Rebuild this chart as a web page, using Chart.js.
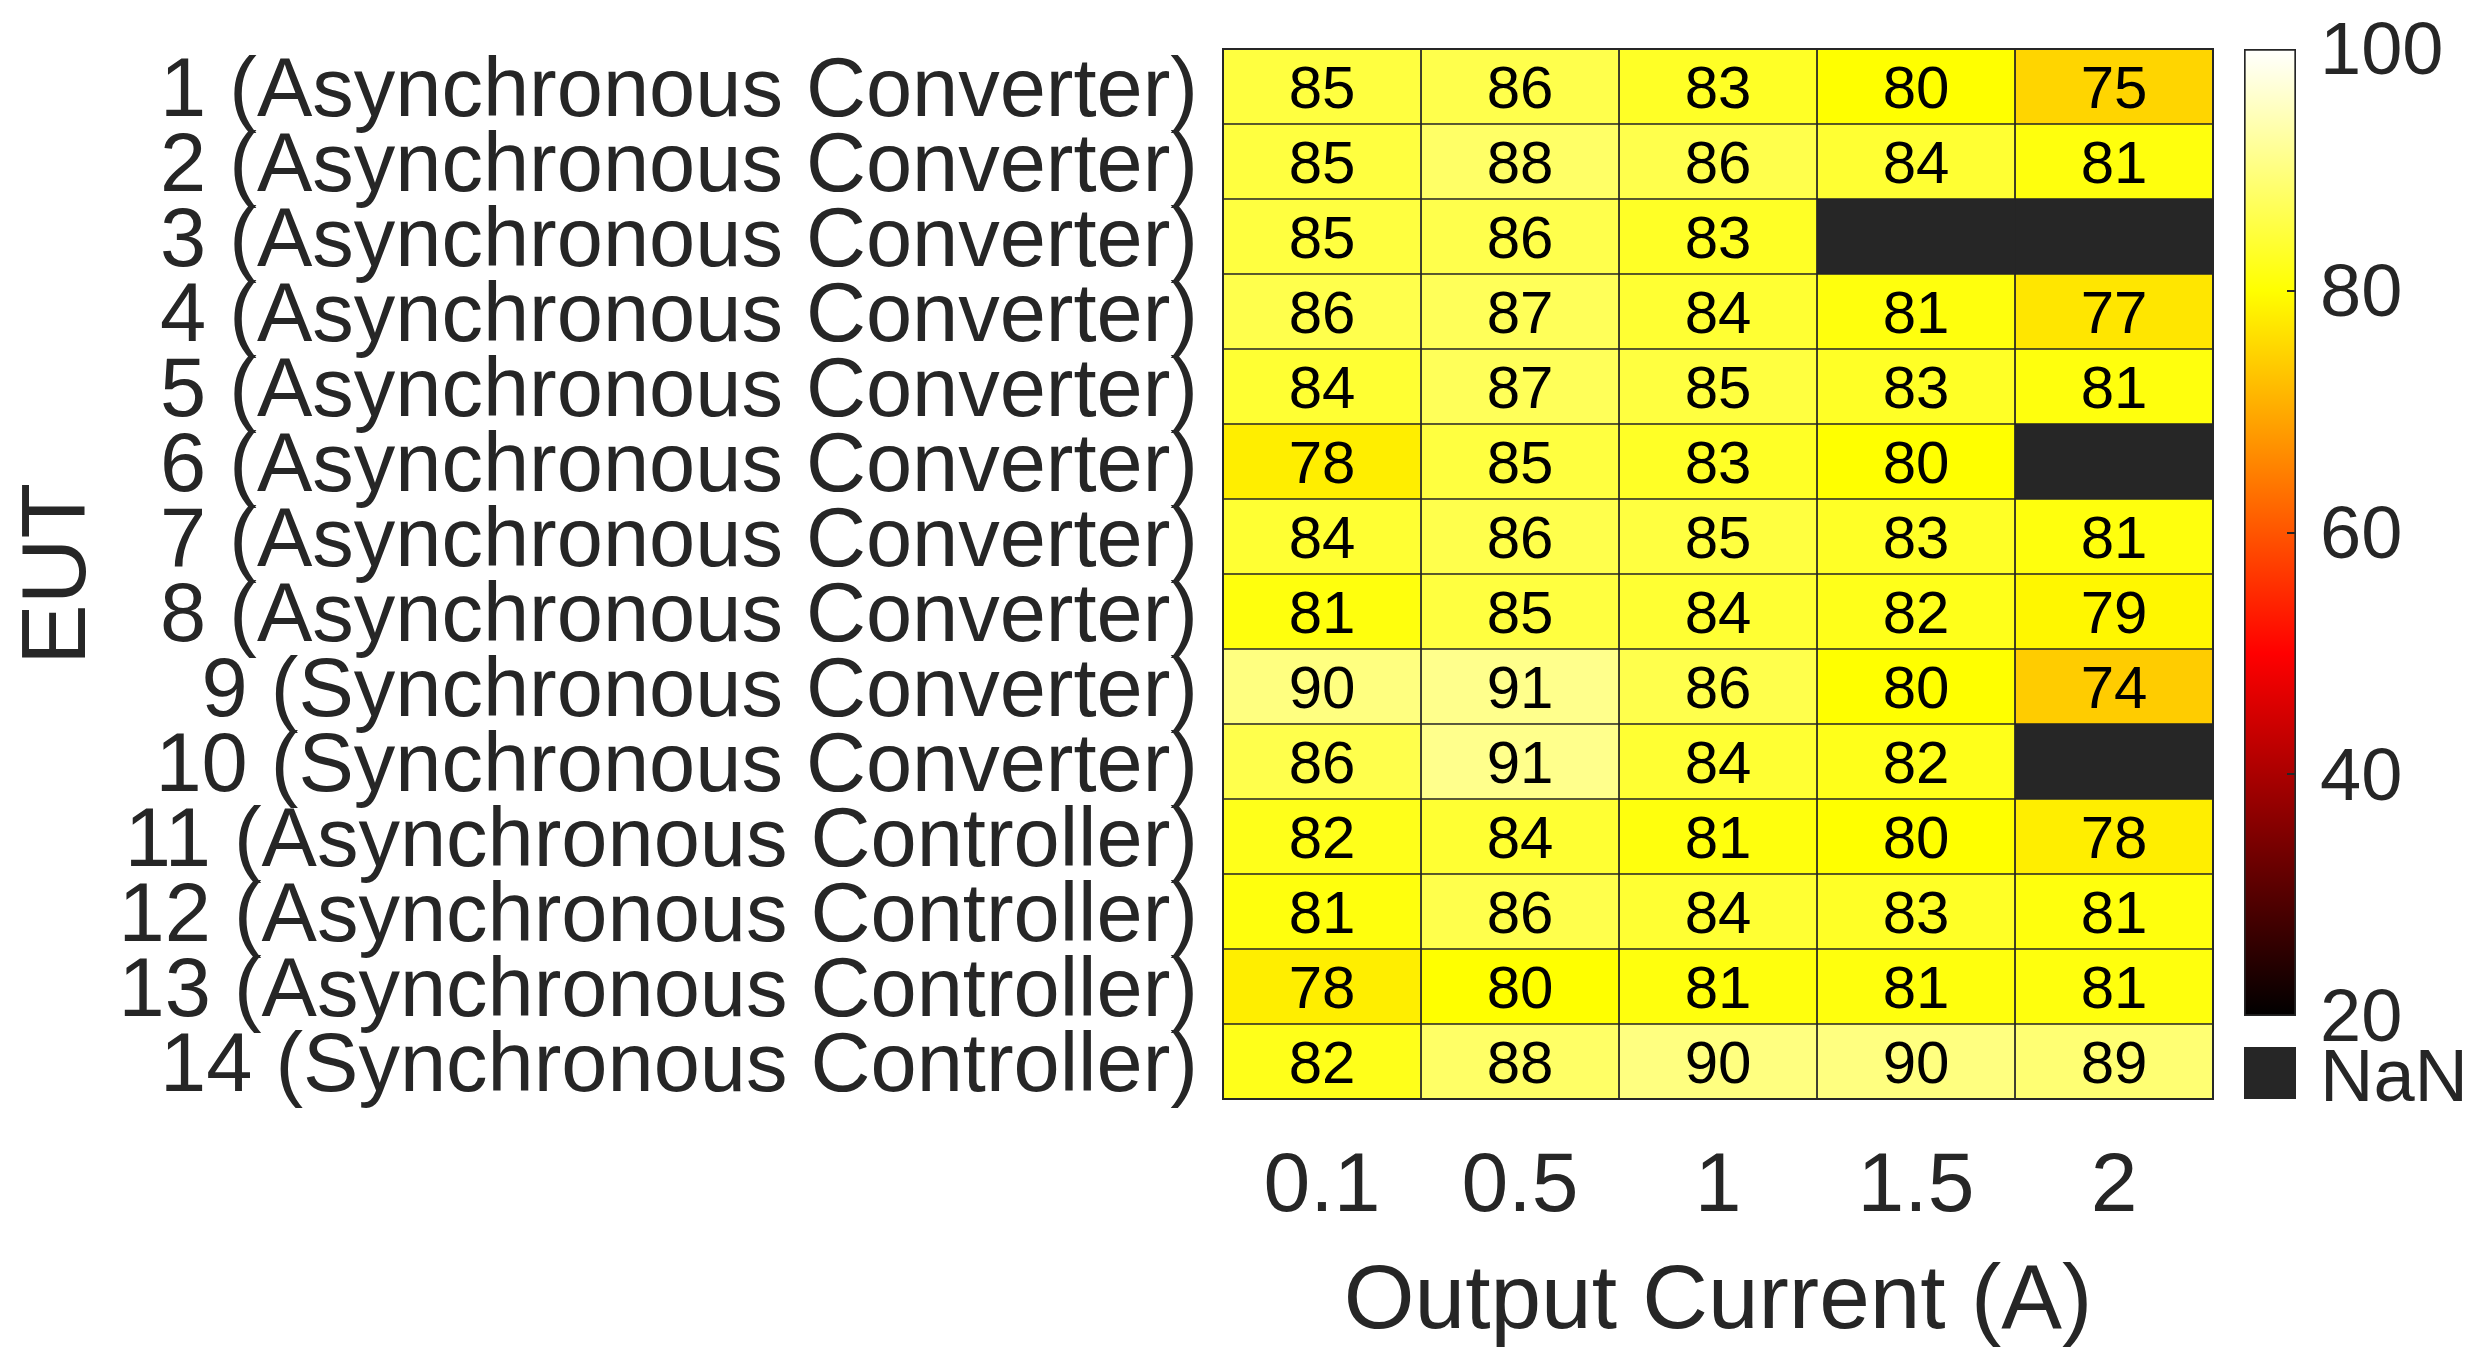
<!DOCTYPE html>
<html><head><meta charset="utf-8">
<script src="https://cdn.jsdelivr.net/npm/chart.js@4.4.1/dist/chart.umd.min.js"></script>
<style>
html,body{margin:0;padding:0;background:#fff;}
#wrap{position:relative;width:2488px;height:1372px;overflow:hidden;font-family:"Liberation Sans",Arial,sans-serif;}
#main{position:absolute;left:0;top:0;}
#cbar{position:absolute;left:2200px;top:0;}
#nanBox{position:absolute;left:2244px;top:1047px;width:52px;height:52px;background:#262626;}
#nanText{position:absolute;left:2320px;top:1039px;font-size:74px;line-height:74px;color:#262626;}
</style></head><body>
<div id="wrap">
<canvas id="main" width="2488" height="1372"></canvas>
<canvas id="cbar" width="288" height="1372"></canvas>
<div id="nanBox"></div><div id="nanText">NaN</div>
</div>
<script>
// ---- data ----
const eutLabels = [
  '1 (Asynchronous Converter)', '2 (Asynchronous Converter)', '3 (Asynchronous Converter)',
  '4 (Asynchronous Converter)', '5 (Asynchronous Converter)', '6 (Asynchronous Converter)',
  '7 (Asynchronous Converter)', '8 (Asynchronous Converter)', '9 (Synchronous Converter)',
  '10 (Synchronous Converter)', '11 (Asynchronous Controller)', '12 (Asynchronous Controller)',
  '13 (Asynchronous Controller)', '14 (Synchronous Controller)'
];
const currentLabels = ['0.1', '0.5', '1', '1.5', '2'];
const eff_0_1 = [85, 85, 85, 86, 84, 78, 84, 81, 90, 86, 82, 81, 78, 82];
const eff_0_5 = [86, 88, 86, 87, 87, 85, 86, 85, 91, 91, 84, 86, 80, 88];
const eff_1   = [83, 86, 83, 84, 85, 83, 85, 84, 86, 84, 81, 84, 81, 90];
const eff_1_5 = [80, 84, null, 81, 83, 80, 83, 82, 80, 82, 80, 83, 81, 90];
const eff_2   = [75, 81, null, 77, 81, null, 81, 79, 74, null, 78, 81, 81, 89];
const colorMin = 20;
const colorMax = 100;
const colorbarTicks = [20, 40, 60, 80, 100];

const columns = [eff_0_1, eff_0_5, eff_1, eff_1_5, eff_2];
const FONT = '"Liberation Sans", Arial, sans-serif';
const TXT = '#262626';
const NAN_COLOR = '#262626';

function hot(t) {
  t = Math.max(0, Math.min(1, t));
  const r = Math.min(1, t / 0.375);
  const g = Math.max(0, Math.min(1, (t - 0.375) / 0.375));
  const b = Math.max(0, Math.min(1, (t - 0.75) / 0.25));
  return `rgb(${Math.round(r*255)},${Math.round(g*255)},${Math.round(b*255)})`;
}
function colorFor(v) {
  if (v === null || v === undefined || isNaN(v)) return NAN_COLOR;
  return hot((v - colorMin) / (colorMax - colorMin));
}

const cellLabels = {
  id: 'cellLabels',
  afterDatasetsDraw(chart) {
    const ctx = chart.ctx;
    ctx.save();
    ctx.font = '60px ' + FONT;
    ctx.fillStyle = '#000';
    ctx.textAlign = 'center';
    ctx.textBaseline = 'middle';
    chart.data.datasets.forEach((ds, j) => {
      const meta = chart.getDatasetMeta(j);
      meta.data.forEach((el, i) => {
        const v = ds.values[i];
        if (v === null) return;
        const cx = (el.x + el.base) / 2;
        ctx.fillText(String(v), cx, el.y + 5);
      });
    });
    const a = chart.chartArea;
    ctx.strokeStyle = '#262626';
    ctx.lineWidth = 2;
    ctx.strokeRect(a.left, a.top, a.right - a.left, a.bottom - a.top);
    ctx.restore();
  }
};

new Chart(document.getElementById('main'), {
  type: 'bar',
  data: {
    labels: eutLabels,
    datasets: columns.map((col, j) => ({
      label: currentLabels[j],
      values: col,
      data: col.map(() => 1),
      backgroundColor: col.map(colorFor),
      borderColor: '#262626',
      borderWidth: 1.2,
      borderSkipped: false,
      barPercentage: 1,
      categoryPercentage: 1
    }))
  },
  options: {
    indexAxis: 'y',
    responsive: false,
    animation: false,
    events: [],
    layout: { padding: { left: 0, top: 49, right: 275, bottom: 0 } },
    plugins: { legend: { display: false }, tooltip: { enabled: false } },
    scales: {
      x: { type: 'linear', stacked: true, min: 0, max: 5, display: false },
      xc: {
        axis: 'x', type: 'category', labels: currentLabels, position: 'bottom', offset: true,
        grid: { display: false }, border: { display: false },
        ticks: { autoSkip: false, maxRotation: 0, padding: 30, color: TXT, font: { family: FONT, size: 84 } },
        title: { display: true, text: 'Output Current (A)', color: TXT, font: { family: FONT, size: 91 }, padding: { top: 0, bottom: 14 } },
        afterFit(s) { s.height = 273; s.paddingLeft = 0; s.paddingRight = 0; }
      },
      y: {
        type: 'category', stacked: true, offset: true,
        grid: { display: false }, border: { display: false },
        ticks: { autoSkip: false, padding: 17, labelOffset: 7, color: TXT, font: { family: FONT, size: 83 } },
        title: { display: true, text: 'EUT', color: TXT, font: { family: FONT, size: 91 }, padding: { top: 5, bottom: 0 } },
        afterFit(s) { s.width = 1223; s.paddingTop = 0; s.paddingBottom = 0; }
      }
    }
  },
  plugins: [cellLabels]
});

// ---- colorbar ----
const cbTicks = {
  id: 'cbTicks',
  afterDatasetsDraw(chart) {
    const ctx = chart.ctx, a = chart.chartArea, ys = chart.scales.y;
    ctx.save();
    ctx.strokeStyle = '#262626';
    ctx.lineWidth = 2;
    colorbarTicks.forEach(v => {
      const y = Math.round(ys.getPixelForValue(v));
      if (v === colorMin || v === colorMax) return;
      ctx.beginPath(); ctx.moveTo(a.right - 9, y); ctx.lineTo(a.right - 1, y); ctx.stroke();
    });
    ctx.restore();
  }
};

new Chart(document.getElementById('cbar'), {
  type: 'bar',
  data: {
    labels: [''],
    datasets: [{
      data: [[colorMin, colorMax]],
      backgroundColor(c) {
        const chart = c.chart;
        if (!chart.chartArea) return '#ff0';
        const ys = chart.scales.y;
        const g = chart.ctx.createLinearGradient(0, ys.getPixelForValue(colorMin), 0, ys.getPixelForValue(colorMax));
        g.addColorStop(0, 'rgb(0,0,0)');
        g.addColorStop(0.375, 'rgb(255,0,0)');
        g.addColorStop(0.75, 'rgb(255,255,0)');
        g.addColorStop(1, 'rgb(255,255,255)');
        return g;
      },
      borderColor: '#262626',
      borderWidth: 2,
      borderSkipped: false,
      barPercentage: 1,
      categoryPercentage: 1
    }]
  },
  options: {
    responsive: false,
    animation: false,
    events: [],
    layout: { padding: { left: 44, top: 49, right: 0, bottom: 356 } },
    plugins: { legend: { display: false }, tooltip: { enabled: false } },
    scales: {
      x: { display: false },
      y: {
        position: 'right', min: colorMin, max: colorMax,
        grid: { display: false }, border: { display: false },
        ticks: { stepSize: 20, padding: 16, labelOffset: 5, color: TXT, font: { family: FONT, size: 74 } },
        afterFit(s) { s.width = 192; s.paddingTop = 0; s.paddingBottom = 0; }
      }
    }
  },
  plugins: [cbTicks]
});
</script>
</body></html>
